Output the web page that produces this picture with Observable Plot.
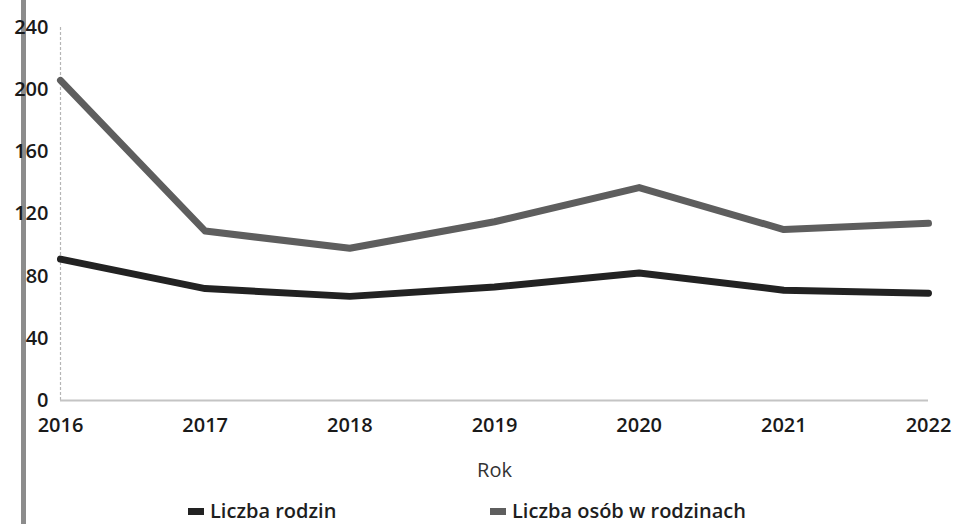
<!DOCTYPE html>
<html>
<head>
<meta charset="utf-8">
<script src="https://cdn.jsdelivr.net/npm/d3@7"></script>
<script src="https://cdn.jsdelivr.net/npm/@observablehq/plot@0.6"></script>
<style>
  body { margin: 0; background: #fff; font-family: "Open Sans", sans-serif; }
  #wrap { position: relative; width: 955px; height: 524px; overflow: hidden; }
  #edge { position: absolute; left: 21px; top: 0; width: 5px; height: 524px; background: #8c8c8c; z-index: 0; }
  #chart { position: absolute; left: 0; top: 0; z-index: 1; }
  #legend { position: absolute; top: 498px; left: 0; width: 955px; height: 26px; font-size: 20px; font-weight: 600; color: #1e1e1e; z-index: 1; }
  .item { position: absolute; top: 0; height: 26px; display: flex; align-items: center; }
  .sw { position: absolute; left: 0; top: 10px; width: 16px; height: 7px; display: inline-block; }
  .lbl { position: absolute; left: 22px; top: 0; white-space: nowrap; line-height: 26px; }
</style>
</head>
<body>
<div id="wrap">
  <div id="edge"></div>
  <div id="chart"></div>
  <div id="legend"></div>
</div>
<script>
const years = [2016, 2017, 2018, 2019, 2020, 2021, 2022];
const liczbaRodzin = [91, 72, 67, 73, 82, 71, 69];
const liczbaOsob = [206, 109, 98, 115, 137, 110, 114];
const yTicks = [0, 40, 80, 120, 160, 200, 240];
const seriesNames = ["Liczba rodzin", "Liczba osób w rodzinach"];
const seriesColors = ["#222222", "#5e5e5e"];

const data = [];
years.forEach((y, i) => {
  data.push({year: y, value: liczbaRodzin[i], series: seriesNames[0]});
  data.push({year: y, value: liczbaOsob[i], series: seriesNames[1]});
});

const chart = Plot.plot({
  width: 955,
  height: 490,
  marginTop: 27,
  marginBottom: 90,
  marginLeft: 60,
  marginRight: 27,
  style: {fontFamily: "Open Sans, sans-serif", fontSize: "20px", color: "#1a1a1a", background: "transparent"},
  x: {domain: [2016, 2022], ticks: years, tickFormat: d3.format("d"), tickSize: 0, tickPadding: 17, label: "Rok", labelAnchor: "center", labelOffset: 76},
  y: {domain: [0, 240], ticks: yTicks, tickSize: 0, tickPadding: 12, label: null},
  color: {domain: seriesNames, range: seriesColors},
  marks: [
    Plot.ruleX([2016], {stroke: "#b5b5b5", strokeWidth: 1.2, strokeDasharray: "3,2"}),
    Plot.ruleY([0], {stroke: "#c4c4c4", strokeWidth: 2}),
    Plot.line(data, {x: "year", y: "value", z: "series", stroke: "series", strokeWidth: 7, strokeLinejoin: "round"})
  ]
});
chart.querySelectorAll("g[aria-label='x-axis tick label'], g[aria-label='y-axis tick label']").forEach(g => g.setAttribute("font-size", "20px"));
chart.querySelectorAll("g[aria-label='x-axis tick label'] text, g[aria-label='y-axis tick label'] text").forEach(t => {
  t.setAttribute("font-weight", "600");
  t.setAttribute("font-size", "20px");
});
const xlg = chart.querySelector("g[aria-label='x-axis label']");
if (xlg) xlg.setAttribute("font-size", "20px");
const xl = chart.querySelector("g[aria-label='x-axis label'] text");
if (xl) { xl.textContent = "Rok"; xl.setAttribute("font-size", "20px"); xl.setAttribute("fill", "#333"); }
document.getElementById("chart").appendChild(chart);

const legend = document.getElementById("legend");
const lx = [188, 490];
seriesNames.forEach((n, i) => {
  const it = document.createElement("div");
  it.className = "item";
  it.style.left = lx[i] + "px";
  it.innerHTML = `<span class="sw" style="background:${seriesColors[i]}"></span><span class="lbl">${n}</span>`;
  legend.appendChild(it);
});
</script>
</body>
</html>
